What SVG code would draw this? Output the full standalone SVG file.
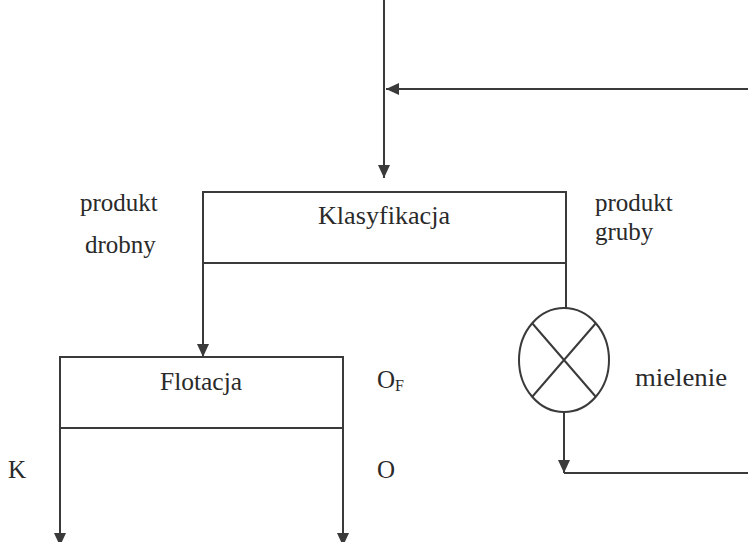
<svg xmlns="http://www.w3.org/2000/svg" width="748" height="542" viewBox="0 0 748 542">
<style>
.ln{fill:none;stroke:#3a3a3a;stroke-width:2}
.bx{fill:#fff;stroke:#3a3a3a;stroke-width:2}
text{font-family:'Liberation Serif','DejaVu Serif',serif;font-size:25px;fill:#2a2a2a}
</style>
<defs>
<marker id="ah" markerUnits="userSpaceOnUse" markerWidth="14" markerHeight="12" refX="13" refY="6" orient="auto">
<path d="M0,0 L13,6 L0,12 z" fill="#3a3a3a"/>
</marker>
</defs>
<rect width="748" height="542" fill="#fff"/>
<g id="connectors">
<path class="ln" d="M384,0 V178" marker-end="url(#ah)"/>
<path class="ln" d="M748,89 H386" marker-end="url(#ah)"/>
<path class="ln" d="M203,263 V357" marker-end="url(#ah)"/>
<path class="ln" d="M566,263 V308"/>
<path class="ln" d="M564,413 V473" marker-end="url(#ah)"/>
<path class="ln" d="M564,473 H748"/>
<path class="ln" d="M60,428 V546" marker-end="url(#ah)"/>
<path class="ln" d="M343,428 V546" marker-end="url(#ah)"/>
</g>
<g id="klasyfikacja">
<rect class="bx" x="203" y="192" width="363" height="71"/>
<text font-family="Liberation Serif, DejaVu Serif, serif" x="318" y="224" textLength="132" lengthAdjust="spacingAndGlyphs">Klasyfikacja</text>
</g>
<g id="flotacja">
<rect class="bx" x="60" y="357" width="283" height="71"/>
<text font-family="Liberation Serif, DejaVu Serif, serif" x="160" y="390" textLength="82" lengthAdjust="spacingAndGlyphs">Flotacja</text>
</g>
<g id="mielenie">
<ellipse class="ln" cx="564" cy="360" rx="45" ry="52"/>
<path class="ln" d="M532,323 L596,397 M596,323 L532,397"/>
<text font-family="Liberation Serif, DejaVu Serif, serif" x="635" y="386" textLength="92" lengthAdjust="spacingAndGlyphs">mielenie</text>
</g>
<g id="labels" font-family="Liberation Serif, DejaVu Serif, serif">
<text x="80" y="211">produkt</text>
<text x="85" y="253">drobny</text>
<text x="595" y="211">produkt</text>
<text x="595" y="240">gruby</text>
<text x="377" y="388">O<tspan font-size="16" dy="3">F</tspan></text>
<text x="377" y="478">O</text>
<text x="8" y="478">K</text>
</g>
</svg>
